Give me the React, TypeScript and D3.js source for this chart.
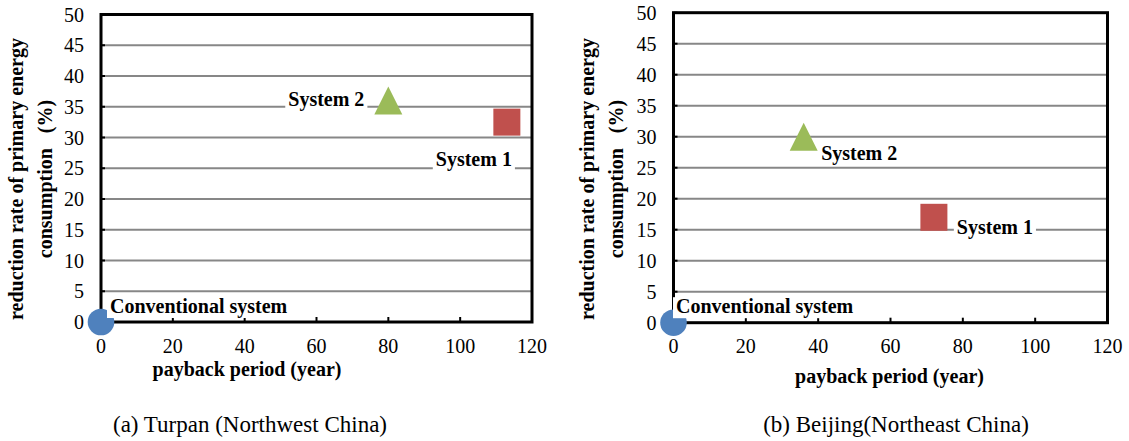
import React, { useEffect, useRef } from "react";
import * as d3 from "d3";

const W = 1129;
const H = 441;
const FONT = "'Liberation Serif', 'Times New Roman', serif";

const systems = ["Conventional system", "System 1", "System 2"];
const markerShapes = ["circle", "square", "triangle"];
const markerColors = ["#4F81BD", "#C0504D", "#9BBB59"];

// Turpan
const turpanPayback = [0, 113, 80];
const turpanReduction = [0, 32.5, 36];
// Beijing
const beijingPayback = [0, 72, 36];
const beijingReduction = [0, 17, 30];

const xTicks = [0, 20, 40, 60, 80, 100, 120];
const yTicks = [0, 5, 10, 15, 20, 25, 30, 35, 40, 45, 50];

const xTitle = "payback period (year)";
const yTitle1 = "reduction rate of primary energy";
const yTitle2 = "consumption\u00a0\u00a0 (%)";
const captions = ["(a) Turpan (Northwest China)", "(b) Beijing(Northeast China)"];

// layout of each panel (pixels)
const panels = [
  {
    px: turpanPayback, py: turpanReduction, caption: captions[0],
    x0: 101, x1: 532, y0: 322, y1: 14.5,
    yLabelX: 84, yT1: 23, yT2: 52, yTC: 179,
    xTitleX: 247, xTitleY: 376, capX: 250,
    // label offsets [dx, dy, anchor]
    labels: [[9, -9, "start"], [-33, 44, "middle"], [-62, 5, "middle"]],
  },
  {
    px: beijingPayback, py: beijingReduction, caption: captions[1],
    x0: 673.5, x1: 1107.5, y0: 322.7, y1: 12.7,
    yLabelX: 656.5, yT1: 593.5, yT2: 623, yTC: 179,
    xTitleX: 889.5, xTitleY: 383, capX: 896,
    labels: [[2.5, -9.5, "start"], [61, 17, "middle"], [55.5, 23, "middle"]],
  },
];

export default function App() {
  const ref = useRef<SVGSVGElement>(null);

  useEffect(() => {
    const svg = d3.select(ref.current);
    svg.selectAll("*").remove();

    for (const p of panels) {
      const x = d3.scaleLinear().domain([0, 120]).range([p.x0, p.x1]);
      const y = d3.scaleLinear().domain([0, 50]).range([p.y0, p.y1]);
      const g = svg.append("g");

      // gridlines
      g.selectAll(".grid")
        .data(yTicks.filter((t) => t > 0 && t < 50))
        .join("line")
        .attr("x1", x(0)).attr("x2", x(120))
        .attr("y1", (d) => y(d)).attr("y2", (d) => y(d))
        .attr("stroke", "#878787").attr("stroke-width", 2);

      // ticks
      g.selectAll(".yt")
        .data(yTicks)
        .join("line")
        .attr("x1", x(0)).attr("x2", x(0) + 4)
        .attr("y1", (d) => y(d)).attr("y2", (d) => y(d))
        .attr("stroke", "#000").attr("stroke-width", 2);
      g.selectAll(".xt")
        .data(xTicks)
        .join("line")
        .attr("x1", (d) => x(d)).attr("x2", (d) => x(d))
        .attr("y1", y(0)).attr("y2", y(0) - 5)
        .attr("stroke", "#000").attr("stroke-width", 2);

      // frame
      g.append("rect")
        .attr("x", x(0)).attr("y", y(50))
        .attr("width", x(120) - x(0)).attr("height", y(0) - y(50))
        .attr("fill", "none").attr("stroke", "#000").attr("stroke-width", 3);

      // tick labels
      g.selectAll(".yl")
        .data(yTicks)
        .join("text")
        .attr("x", p.yLabelX).attr("y", (d) => y(d)).attr("dy", "0.35em")
        .attr("text-anchor", "end")
        .style("font", `20px ${FONT}`)
        .text((d) => d);
      g.selectAll(".xl")
        .data(xTicks)
        .join("text")
        .attr("x", (d) => x(d)).attr("y", y(0) + 30.5)
        .attr("text-anchor", "middle")
        .style("font", `20px ${FONT}`)
        .text((d) => d);

      // axis titles
      g.append("text")
        .attr("x", p.xTitleX).attr("y", p.xTitleY)
        .attr("text-anchor", "middle")
        .style("font", `bold 20px ${FONT}`)
        .text(xTitle);
      [[p.yT1, yTitle1], [p.yT2, yTitle2]].forEach(([bx, t]) => {
        g.append("text")
          .attr("transform", `translate(${bx},${p.yTC}) rotate(-90)`)
          .attr("text-anchor", "middle")
          .style("font", `bold 20px ${FONT}`)
          .style("white-space", "pre")
          .text(t as string);
      });

      // markers
      systems.forEach((s, i) => {
        const cx = x(p.px[i]);
        const cy = y(p.py[i]);
        const shape = markerShapes[i];
        if (shape === "circle") {
          g.append("circle").attr("cx", cx).attr("cy", cy).attr("r", 13.3)
            .attr("fill", markerColors[i]);
        } else if (shape === "square") {
          g.append("rect").attr("x", cx - 13.5).attr("y", cy - 13.5)
            .attr("width", 27).attr("height", 27).attr("fill", markerColors[i]);
        } else {
          g.append("path")
            .attr("d", `M${cx},${cy - 14}L${cx + 14},${cy + 14}L${cx - 14},${cy + 14}Z`)
            .attr("fill", markerColors[i]);
        }
      });

      // data labels with white boxes
      systems.forEach((s, i) => {
        const cx = x(p.px[i]);
        const cy = y(p.py[i]);
        const [dx, dy, anchor] = p.labels[i] as [number, number, string];
        const lg = g.append("g");
        const box = lg.append("rect").attr("fill", "#fff");
        const t = lg.append("text")
          .attr("x", cx + dx).attr("y", cy + dy)
          .attr("text-anchor", anchor)
          .style("font", `bold 20px ${FONT}`)
          .text(s);
        const bb = (t.node() as SVGTextElement).getBBox();
        box.attr("x", bb.x - 3).attr("y", bb.y + 2)
          .attr("width", bb.width + 6).attr("height", bb.height - 2);
      });

      // caption
      svg.append("text")
        .attr("x", p.capX).attr("y", 432)
        .attr("text-anchor", "middle")
        .style("font", `23px ${FONT}`)
        .text(p.caption);
    }
  }, []);

  return (
    <svg
      ref={ref}
      width={W}
      height={H}
      style={{ position: "absolute", left: 0, top: 0, background: "#fff" }}
    />
  );
}
